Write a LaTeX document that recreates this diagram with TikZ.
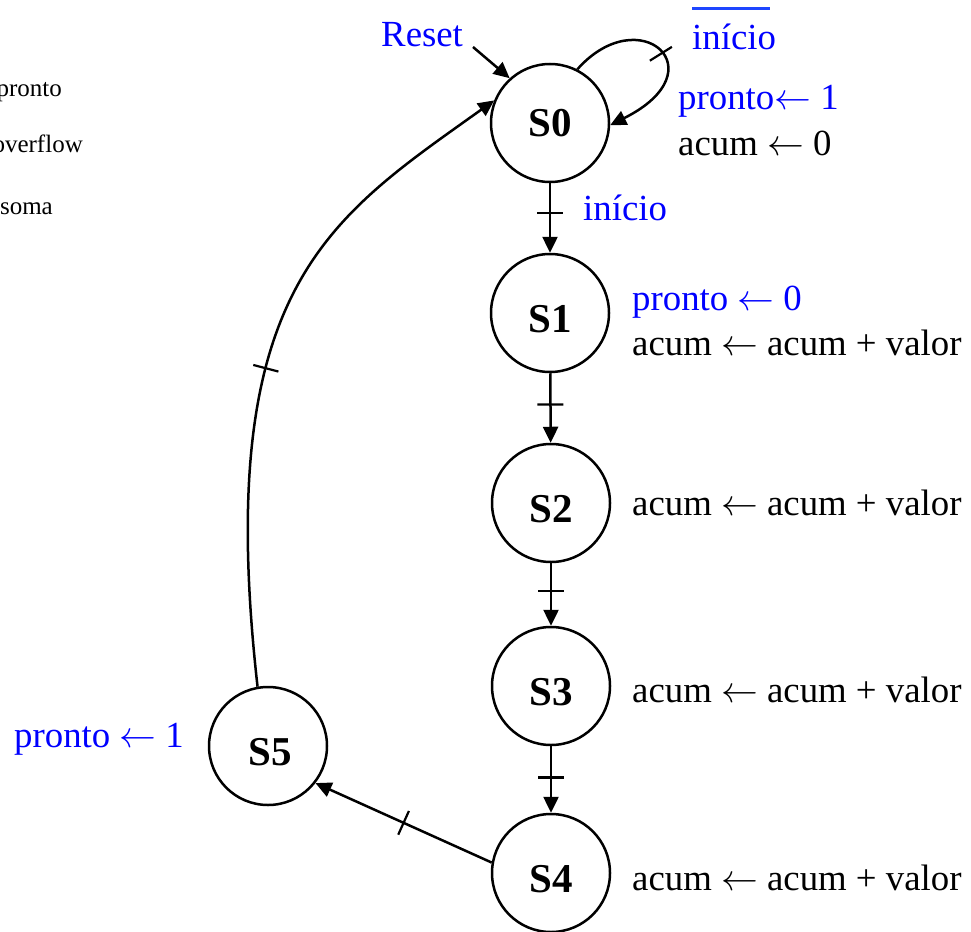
\RequirePackage{fix-cm}
\documentclass[tikz,border=0pt]{standalone}
\usepackage{fontspec}
\setmainfont{Liberation Serif}
\usetikzlibrary{arrows.meta,decorations.markings}
\definecolor{txtblue}{RGB}{0,0,255}
\definecolor{barblue}{RGB}{30,70,255}
\newcommand{\lar}{$\leftarrow$}
\begin{document}
\begin{tikzpicture}[x=1pt,y=-1pt,
  state/.style={circle,draw,line width=2.5pt,minimum size=118pt,inner sep=0pt},
  slabel/.style={font=\fontsize{41}{48}\selectfont\bfseries,inner sep=0pt},
  txt/.style={font=\fontsize{36.8}{43}\selectfont,inner sep=0pt,anchor=base west},
  btxt/.style={txt,text=txtblue},
  small/.style={font=\fontsize{25}{30}\selectfont,inner sep=0pt,anchor=base east},
  conn/.style={line width=2.5pt,-{Triangle[length=16pt,width=15pt]}},
  crossmark/.style={postaction={decorate,decoration={markings,
      mark=at position #1 with {\draw[line width=2.2pt,-] (0,-13pt) -- (0,13pt);}}}}
]
\useasboundingbox (0,0) rectangle (971,931);
\clip (0,0) rectangle (971,931);

% cut-off texts at left edge
\node[small] (t1) at (62,97) {pronto};
\node[small] (t2) at (83,152) {overflow};
\node[small] (t3) at (53,214) {soma};

% states
\node[state] (S0) at (550,123) {};
\node[state] (S1) at (550,313) {};
\node[state] (S2) at (551,503) {};
\node[state] (S3) at (551,686) {};
\node[state] (S4) at (551,873) {};
\node[state] (S5) at (268,746) {};
\node[slabel] (L0) at (550,123) {S0};
\node[slabel] (L1) at (550,319) {S1};
\node[slabel] (L2) at (551,509) {S2};
\node[slabel] (L3) at (551,692) {S3};
\node[slabel] (L4) at (551,879) {S4};
\node[slabel] (L5) at (270,752) {S5};

% texts
\node[btxt] (reset) at (381,47) {Reset};
\node[btxt] (nini) at (692,50) {início};
\draw[barblue,line width=3pt] (692,9) -- (770,9);
\node[btxt] (p0) at (678,110) {pronto\lar\ 1};
\node[txt] (a0) at (678,155) {acum \lar\ 0};
\node[btxt] (ini) at (583,220) {início};
\node[btxt] (p1) at (632,310) {pronto \lar\ 0};
\node[txt] (a1) at (632,355) {acum \lar\ acum + valor};
\node[txt] (a2) at (632,515) {acum \lar\ acum + valor};
\node[txt] (a3) at (632,702) {acum \lar\ acum + valor};
\node[txt] (a4) at (632,890) {acum \lar\ acum + valor};
\node[btxt] (p5) at (14,747) {pronto \lar\ 1};

% connectors
\coordinate (rs) at (473,47);
\draw[conn] (rs) -- (S0.132);
\draw[conn,crossmark=0.5] (S0.63) .. controls +(62,-70) and +(110,-55) .. (S0.-2);
\draw[conn,crossmark=0.43] (S0) -- (S1);
\draw[conn,crossmark=0.45] (S1) -- (S2);
\draw[conn,crossmark=0.45] (S2) -- (S3);
\draw[conn,crossmark=0.47] (S3) -- (S4);
\draw[conn,crossmark=0.5] (S4.170) -- (S5.-38);
\draw[conn,crossmark=0.47] (S5.100) .. controls +(-45,-400) and +(-165,118) .. (S0.158);
\end{tikzpicture}
\end{document}
